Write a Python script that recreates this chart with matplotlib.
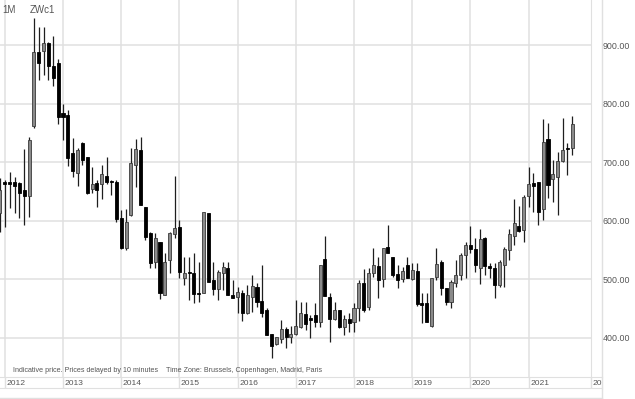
import numpy as np
import matplotlib.pyplot as plt
from matplotlib.lines import Line2D

plt.rcParams['font.family'] = ['Liberation Sans', 'DejaVu Sans']

# Monthly OHLC of ZWc1, Dec 2011 .. Oct 2021
start_year, start_month = 2011, 12
opens = [613,
         666, 666, 666, 665, 653, 642, 762, 889, 890, 904, 865, 870,
         784, 781, 716, 682, 733, 709, 654, 665, 663, 677, 668, 666,
         605, 554, 610, 695, 721, 624, 579, 530, 564, 473, 533, 577,
         589, 502, 512, 511, 477, 477, 613, 499, 483, 511, 519, 473,
         470, 477, 443, 470, 487, 463, 448, 407, 389, 398, 415, 401,
         407, 418, 441, 434, 439, 427, 535, 470, 432, 448, 418, 432,
         427, 451, 494, 453, 511, 523, 501, 555, 538, 509, 501, 524,
         501, 514, 459, 459, 420, 504, 530, 485, 461, 494, 507, 542,
         559, 552, 519, 571, 523, 519, 490, 524, 550, 574, 591, 584,
         642, 665, 666, 620, 740, 671, 675, 702, 723, 724]
highs = [673,
         670, 683, 675, 666, 723, 743, 947, 931, 931, 906, 916, 877,
         800, 789, 742, 724, 735, 709, 692, 670, 695, 709, 670, 670,
         618, 620, 724, 740, 743, 624, 581, 579, 564, 545, 581, 677,
         601, 538, 538, 545, 530, 615, 613, 530, 516, 530, 530, 499,
         487, 482, 490, 507, 494, 524, 451, 407, 401, 430, 418, 420,
         465, 461, 461, 439, 460, 524, 574, 477, 461, 448, 439, 442,
         460, 499, 518, 519, 554, 538, 554, 593, 538, 524, 521, 538,
         528, 528, 477, 477, 502, 554, 533, 485, 499, 533, 545, 564,
         591, 571, 586, 572, 528, 528, 533, 555, 586, 637, 625, 644,
         692, 682, 666, 774, 767, 704, 718, 776, 733, 779]
lows = [581,
        589, 622, 613, 605, 593, 607, 759, 841, 849, 841, 830, 765,
        738, 694, 675, 660, 695, 646, 648, 624, 637, 663, 644, 598,
        552, 550, 608, 658, 627, 567, 519, 519, 466, 473, 511, 571,
        502, 490, 465, 459, 461, 477, 495, 473, 465, 482, 473, 468,
        443, 429, 441, 444, 453, 436, 405, 365, 388, 391, 383, 391,
        405, 417, 413, 400, 418, 418, 471, 393, 430, 417, 405, 410,
        410, 429, 444, 448, 504, 468, 487, 545, 504, 485, 495, 502,
        499, 454, 425, 427, 418, 499, 473, 456, 451, 487, 499, 502,
        545, 512, 492, 507, 502, 468, 487, 487, 533, 559, 581, 564,
        624, 615, 593, 601, 639, 632, 610, 701, 678, 712]
closes = [653,
          663, 663, 660, 648, 642, 738, 889, 870, 904, 865, 844, 777,
          777, 707, 685, 721, 704, 648, 663, 653, 680, 666, 666, 603,
          554, 598, 699, 723, 627, 572, 528, 570, 477, 530, 579, 588,
          512, 511, 511, 475, 475, 615, 495, 483, 512, 521, 473, 468,
          478, 443, 473, 489, 461, 442, 405, 386, 401, 415, 401, 407,
          420, 442, 424, 430, 427, 524, 471, 432, 448, 418, 432, 425,
          451, 494, 448, 511, 524, 499, 554, 545, 507, 499, 514, 502,
          516, 458, 456, 427, 502, 526, 485, 461, 495, 507, 542, 559,
          552, 524, 569, 523, 519, 490, 530, 552, 577, 596, 583, 641,
          663, 660, 615, 735, 661, 680, 702, 721, 722, 765]
years = list(range(2012, 2022))
price_ticks = [400, 500, 600, 700, 800, 900]

W, H = 635, 399
px_month = 4.85   # pixels per month
x0_px = 4.8       # pixel of Jan 2012
plot_w, plot_h = 591, 377
y_top, y_bot = 977.4, 333.0

n = len(opens)
first = (start_year - 2012) * 12 + start_month - 1
x = np.arange(first, first + n)
o = np.array(opens, float)
h = np.array(highs, float)
l = np.array(lows, float)
c = np.array(closes, float)

fig = plt.figure(figsize=(W / 100, H / 100), dpi=100)
ax = fig.add_axes([0, (H - plot_h) / H, plot_w / W, plot_h / H])
ax.set_xlim(-x0_px / px_month, (plot_w - x0_px) / px_month)
ax.set_ylim(y_bot, y_top)

grid_col = '#e0e0e0'
year_idx = [(yr - 2012) * 12 for yr in years]
ax.set_xticks(year_idx)
ax.set_yticks(price_ticks)
ax.grid(True, color=grid_col, lw=1.1)
ax.set_axisbelow(True)
ax.tick_params(axis='x', length=0, labelbottom=False)
ax.tick_params(axis='y', left=False, labelleft=False, right=False, labelright=True,
               length=0, pad=8.5, labelsize=6.4, labelcolor='#555555')
ax.yaxis.set_major_formatter(plt.FormatStrFormatter('%.2f'))
for s in ['top', 'left', 'bottom']:
    ax.spines[s].set_visible(False)
ax.spines['right'].set_color(grid_col)

# candles
up = c >= o
ax.vlines(x, l, h, color='#1e1e1e', lw=0.9, zorder=2)
body = np.maximum(np.abs(c - o), 2.0)
ax.bar(x, body, bottom=np.minimum(o, c), width=0.62,
       color=np.where(up, '#8a8a8a', '#000000'),
       edgecolor=np.where(up, '#3a3a3a', '#000000'), lw=0.6, zorder=3)

ax.text(13 / plot_w, 6 / plot_h,
        'Indicative price. Prices delayed by 10 minutes    Time Zone: Brussels, Copenhagen, Madrid, Paris',
        transform=ax.transAxes, fontsize=5.1, color='#555555', va='center')

# year label row
row_w = 601.7
ax2 = fig.add_axes([0, 11 / H, row_w / W, 11 / H])
ax2.set_xlim(-x0_px / px_month, (row_w - x0_px) / px_month)
ax2.set_ylim(0, 1)
ax2.set_xticks([])
ax2.set_yticks([])
for s in ax2.spines.values():
    s.set_color(grid_col)
ax2.spines['left'].set_visible(False)
for xi, yr in zip(year_idx, years):
    ax2.axvline(xi, color=grid_col, lw=1)
    ax2.text(xi + 0.3, 0.45, str(yr), fontsize=6.1, color='#555555', va='center')
edge_idx = (plot_w - x0_px) / px_month
ax2.axvline(edge_idx, color=grid_col, lw=1)
ax2.text(edge_idx + 0.35, 0.45, '20', fontsize=6.1, color='#555555', va='center')

fig.add_artist(Line2D([0, row_w / W], [1 / H, 1 / H], color=grid_col, lw=1))
fig.add_artist(Line2D([row_w / W, row_w / W], [0, 1], color=grid_col, lw=1))

fig.text(2 / W, 1 - 10 / H, '1M', fontsize=7, color='#555555', va='center')
fig.text(30 / W, 1 - 10 / H, 'ZWc1', fontsize=7, color='#555555', va='center')

fig.savefig('out.png', dpi=100)
